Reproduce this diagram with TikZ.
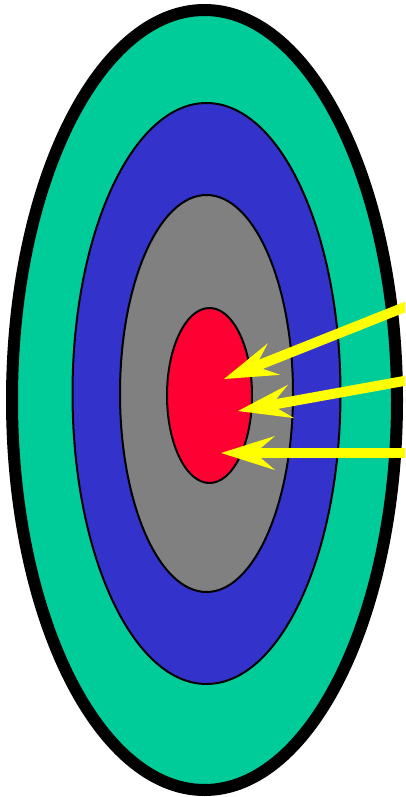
\documentclass[tikz,border=0pt]{standalone}
\usetikzlibrary{arrows.meta}
\definecolor{ringgreen}{RGB}{0,204,153}
\definecolor{ringblue}{RGB}{51,51,204}
\definecolor{ringgray}{RGB}{128,128,128}
\definecolor{ringred}{RGB}{255,0,51}
\definecolor{arrowyellow}{RGB}{255,255,0}
\begin{document}
\begin{tikzpicture}[x=1pt,y=-1pt,
  ring/.style={draw=black,line width=2pt},
  dart/.style={draw=arrowyellow,line width=10pt,
    -{Stealth[length=54pt,width=34pt,inset=20pt,fill=arrowyellow,line width=0pt]}}]
\useasboundingbox (0,0) rectangle (405,797);
\begin{scope}
\clip (0,0) rectangle (405,797);
\draw[fill=ringgreen,line width=12pt] (204.5,400) ellipse [x radius=192.5,y radius=390];
\draw[ring,fill=ringblue] (206.5,393.5) ellipse [x radius=134,y radius=290.5];
\draw[ring,fill=ringgray] (206.5,393.5) ellipse [x radius=86.5,y radius=198.5];
\draw[ring,fill=ringred] (209.5,395.5) ellipse [x radius=42.5,y radius=87.5];
\coordinate (s1) at (415,303);
\coordinate (t1) at (224,379);
\coordinate (s2) at (415,379);
\coordinate (t2) at (238,411);
\coordinate (s3) at (415,453);
\coordinate (t3) at (221,453);
\draw[dart] (s1) -- (t1);
\draw[dart] (s2) -- (t2);
\draw[dart] (s3) -- (t3);
\end{scope}
\end{tikzpicture}
\end{document}
